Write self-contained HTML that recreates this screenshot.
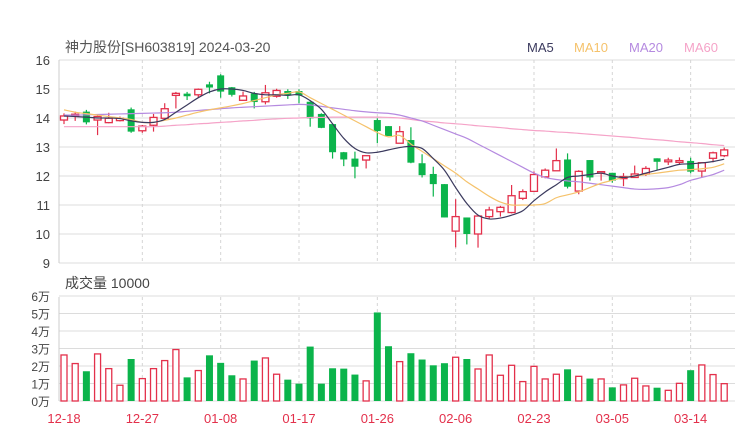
<!DOCTYPE html>
<html><head><meta charset="utf-8"><style>
body{margin:0;background:#fff;}
svg{display:block;font-family:"Liberation Sans","Noto Sans CJK SC",sans-serif;}
</style></head><body>
<svg id="c" width="740" height="440" viewBox="0 0 740 440">
<text x="65" y="52" font-size="14" fill="#555">神力股份[SH603819] 2024-03-20</text>
<g font-size="13">
<text x="527" y="52" fill="#3b3a5e">MA5</text>
<text x="574" y="52" fill="#f5c26b">MA10</text>
<text x="629" y="52" fill="#b58ae0">MA20</text>
<text x="684" y="52" fill="#f5a3c8">MA60</text>
</g>
<text x="65" y="288" font-size="14" fill="#444">成交量 10000</text>
<g id="grid"></g><g id="marks"></g>
</svg>
<script>
const dates=["12-18","12-27","01-08","01-17","01-26","02-06","02-23","03-05","03-14"];
const dateIdx=[0,7,14,21,28,35,42,49,56];
const priceTicks=[9,10,11,12,13,14,15,16];
const volTicks=[0,1,2,3,4,5,6];
const open=[13.93,14.07,14.22,13.93,13.84,13.91,14.3,13.56,13.75,13.99,14.78,14.84,14.8,15.16,15.47,15.06,14.61,14.85,14.56,14.75,14.93,14.93,14.56,14.14,13.79,12.82,12.6,12.55,13.93,13.72,13.13,13.24,12.44,12.07,11.72,10.1,10.57,10.0,10.6,10.77,10.74,11.23,11.47,11.97,12.18,12.57,11.48,12.55,12.13,12.11,11.91,11.95,12.07,12.61,12.49,12.47,12.52,12.17,12.61,12.7];
const close=[14.07,14.13,13.85,14.05,13.99,13.99,13.53,13.72,14.02,14.32,14.85,14.75,14.99,15.05,14.91,14.8,14.76,14.55,14.87,14.95,14.79,14.78,13.99,13.66,12.82,12.57,12.32,12.7,13.55,13.38,13.53,12.46,12.03,11.72,10.57,10.6,10.0,10.62,10.83,10.92,11.32,11.46,12.05,12.2,12.53,11.63,12.16,11.95,12.15,11.84,11.98,12.07,12.26,12.49,12.55,12.53,12.15,12.46,12.8,12.9];
const high=[14.16,14.22,14.28,14.1,14.18,14.05,14.36,13.76,14.14,14.51,14.9,14.9,15.02,15.25,15.51,15.07,14.91,14.9,15.14,15.01,14.99,14.99,14.57,14.16,13.8,12.83,12.84,12.71,13.99,13.72,13.72,13.68,12.75,12.32,11.72,11.2,10.57,10.63,10.94,10.97,11.69,11.54,12.16,12.26,12.95,12.78,12.2,12.55,12.16,12.11,12.1,12.36,12.34,12.61,12.63,12.64,12.63,12.48,12.84,12.98];
const low=[13.79,13.9,13.78,13.41,13.82,13.88,13.49,13.49,13.53,13.95,14.33,14.62,14.71,14.85,14.7,14.74,14.6,14.33,14.47,14.7,14.66,14.51,13.7,13.65,12.6,12.34,11.92,12.26,13.13,13.38,13.12,12.44,11.95,11.29,10.57,9.54,9.64,9.53,10.52,10.6,10.71,11.17,11.47,11.92,12.18,11.57,11.37,11.84,11.84,11.77,11.65,11.95,12.0,12.21,12.38,12.4,12.09,11.95,12.47,12.65];
const volume=[2.63,2.14,1.70,2.69,1.85,0.90,2.40,1.28,1.85,2.31,2.94,1.35,1.74,2.61,2.18,1.47,1.26,2.31,2.46,1.53,1.22,0.99,3.11,0.99,1.87,1.85,1.51,1.15,5.06,3.13,2.25,2.73,2.37,2.04,2.16,2.50,2.40,1.83,2.63,1.47,2.04,1.11,1.98,1.26,1.53,1.81,1.41,1.28,1.26,0.78,0.92,1.30,0.86,0.76,0.61,1.01,1.76,2.06,1.51,0.99];
const ma5=[14.07,14.05,14.03,14.0,14.0,13.98,13.9,13.85,13.85,13.95,14.2,14.45,14.7,14.9,15.0,15.0,14.95,14.85,14.8,14.8,14.78,14.8,14.6,14.3,13.8,13.3,12.95,12.8,12.82,12.9,12.98,13.02,12.95,12.6,12.2,11.6,11.05,10.65,10.52,10.55,10.65,10.8,11.15,11.45,11.7,11.95,12.0,12.05,12.1,12.0,11.95,12.0,12.1,12.2,12.3,12.4,12.42,12.45,12.5,12.58];
const ma10=[14.28,14.2,14.15,14.1,14.05,14.0,13.95,13.85,13.85,13.92,14.0,14.1,14.2,14.28,14.35,14.42,14.5,14.6,14.7,14.8,14.85,14.9,14.7,14.5,14.3,14.1,13.9,13.7,13.5,13.35,13.4,13.1,12.85,12.6,12.35,12.1,11.8,11.55,11.3,11.1,11.0,11.0,11.0,11.05,11.25,11.35,11.45,11.6,11.75,11.85,11.95,12.0,12.05,12.1,12.15,12.2,12.22,12.25,12.3,12.42];
const ma20=[14.1,14.1,14.11,14.12,14.13,14.14,14.15,14.16,14.17,14.18,14.2,14.23,14.26,14.29,14.32,14.35,14.37,14.39,14.41,14.43,14.45,14.47,14.45,14.4,14.35,14.3,14.25,14.21,14.18,14.16,14.1,14.0,13.9,13.75,13.6,13.45,13.3,13.1,12.9,12.7,12.5,12.3,12.1,11.95,11.88,11.83,11.8,11.75,11.7,11.65,11.6,11.55,11.54,11.56,11.6,11.7,11.85,11.95,12.05,12.2];
const ma60=[13.7,13.7,13.7,13.7,13.7,13.7,13.7,13.7,13.7,13.72,13.75,13.77,13.8,13.82,13.85,13.87,13.9,13.92,13.95,13.97,13.99,14.0,14.02,14.02,14.03,14.03,14.03,14.03,14.03,14.02,14.0,13.95,13.9,13.87,13.83,13.8,13.77,13.73,13.7,13.67,13.63,13.6,13.57,13.55,13.52,13.5,13.47,13.44,13.41,13.38,13.35,13.32,13.28,13.25,13.22,13.18,13.15,13.12,13.08,13.05];

const NS="http://www.w3.org/2000/svg";
const L=59,R=735;
const xAt=i=>64+i*11.19;
const yP=p=>60+(16-p)*29;
const yV=v=>401-v*17.5;
const grid=document.getElementById('grid'),marks=document.getElementById('marks');
function mk(tag,attrs,parent){const e=document.createElementNS(NS,tag);for(const k in attrs)e.setAttribute(k,attrs[k]);parent.appendChild(e);return e;}
priceTicks.forEach(p=>{
  const ln=mk('line',{x1:L,x2:R,y1:yP(p),y2:yP(p),stroke:'#dcdcdc','stroke-width':1},grid);
  
  
  const t=mk('text',{x:50,y:yP(p)+5,'font-size':13,fill:'#444','text-anchor':'end'},grid);
  t.textContent=p;
  
  
});
volTicks.forEach(v=>{
  const ln=mk('line',{x1:L,x2:R,y1:yV(v),y2:yV(v),stroke:'#dcdcdc','stroke-width':1},grid);
  
  
  const t=mk('text',{x:50,y:yV(v)+5,'font-size':12,fill:'#444','text-anchor':'end'},grid);
  t.textContent=v+'万';
  
  
});
dates.forEach((d,k)=>{
  const x=xAt(dateIdx[k]);
  if(k>0){
    [[60,263],[297,401]].forEach(r=>{
      const ln=mk('line',{x1:x,x2:x,y1:r[0],y2:r[1],stroke:'#d5d5d5','stroke-dasharray':'3,3'},grid);
      
      
    });
  }
  const t=mk('text',{x:x,y:423,'font-size':13,fill:'#e3304b','text-anchor':'middle'},grid);
  t.textContent=d;
  
  
});
[[60,263],[297,401]].forEach(r=>{
  const ln=mk('line',{x1:L,x2:L,y1:r[0],y2:r[1],stroke:'#ccc'},grid);
  
  
});
const RED='#e3304b',GRN='#0bb44b';
open.forEach((o,i)=>{
  const c=close[i],up=c>=o,col=up?RED:GRN,x=xAt(i);
  const w=mk('line',{x1:x,x2:x,y1:yP(high[i]),y2:yP(low[i]),stroke:col,'stroke-width':1.2},marks);
  
  
  const top=yP(Math.max(o,c)),h=Math.max(1.5,yP(Math.min(o,c))-top);
  const b=mk('rect',{x:x-3.5,y:top,width:7,height:h,fill:up?'#fff':col,stroke:col,'stroke-width':up?1.3:0},marks);
  
  
  const vt=yV(volume[i]);
  const vb=mk('rect',{x:up?x-3:x-3.5,y:vt,width:up?6:7,height:401-vt,fill:up?'#fff':col,stroke:col,'stroke-width':up?1.3:0},marks);
  
  
});
function smooth(arr){
  const P=arr.map((v,i)=>[xAt(i),yP(v)]);
  let d='M'+P[0][0]+','+P[0][1];
  for(let i=0;i<P.length-1;i++){
    const p0=P[Math.max(0,i-1)],p1=P[i],p2=P[i+1],p3=P[Math.min(P.length-1,i+2)];
    d+=' C'+(p1[0]+(p2[0]-p0[0])/6)+','+(p1[1]+(p2[1]-p0[1])/6)+' '+(p2[0]-(p3[0]-p1[0])/6)+','+(p2[1]-(p3[1]-p1[1])/6)+' '+p2[0]+','+p2[1];
  }
  return d;
}
[[ma60,'#f5a3c8','ma60-line'],[ma20,'#b58ae0','ma20-line'],[ma10,'#f5c26b','ma10-line'],[ma5,'#3b3a5e','ma5-line']].forEach(s=>{
  const p=mk('path',{d:smooth(s[0]),fill:'none',stroke:s[1],'stroke-width':1.2},marks);
  
  
});
</script>
</body></html>
